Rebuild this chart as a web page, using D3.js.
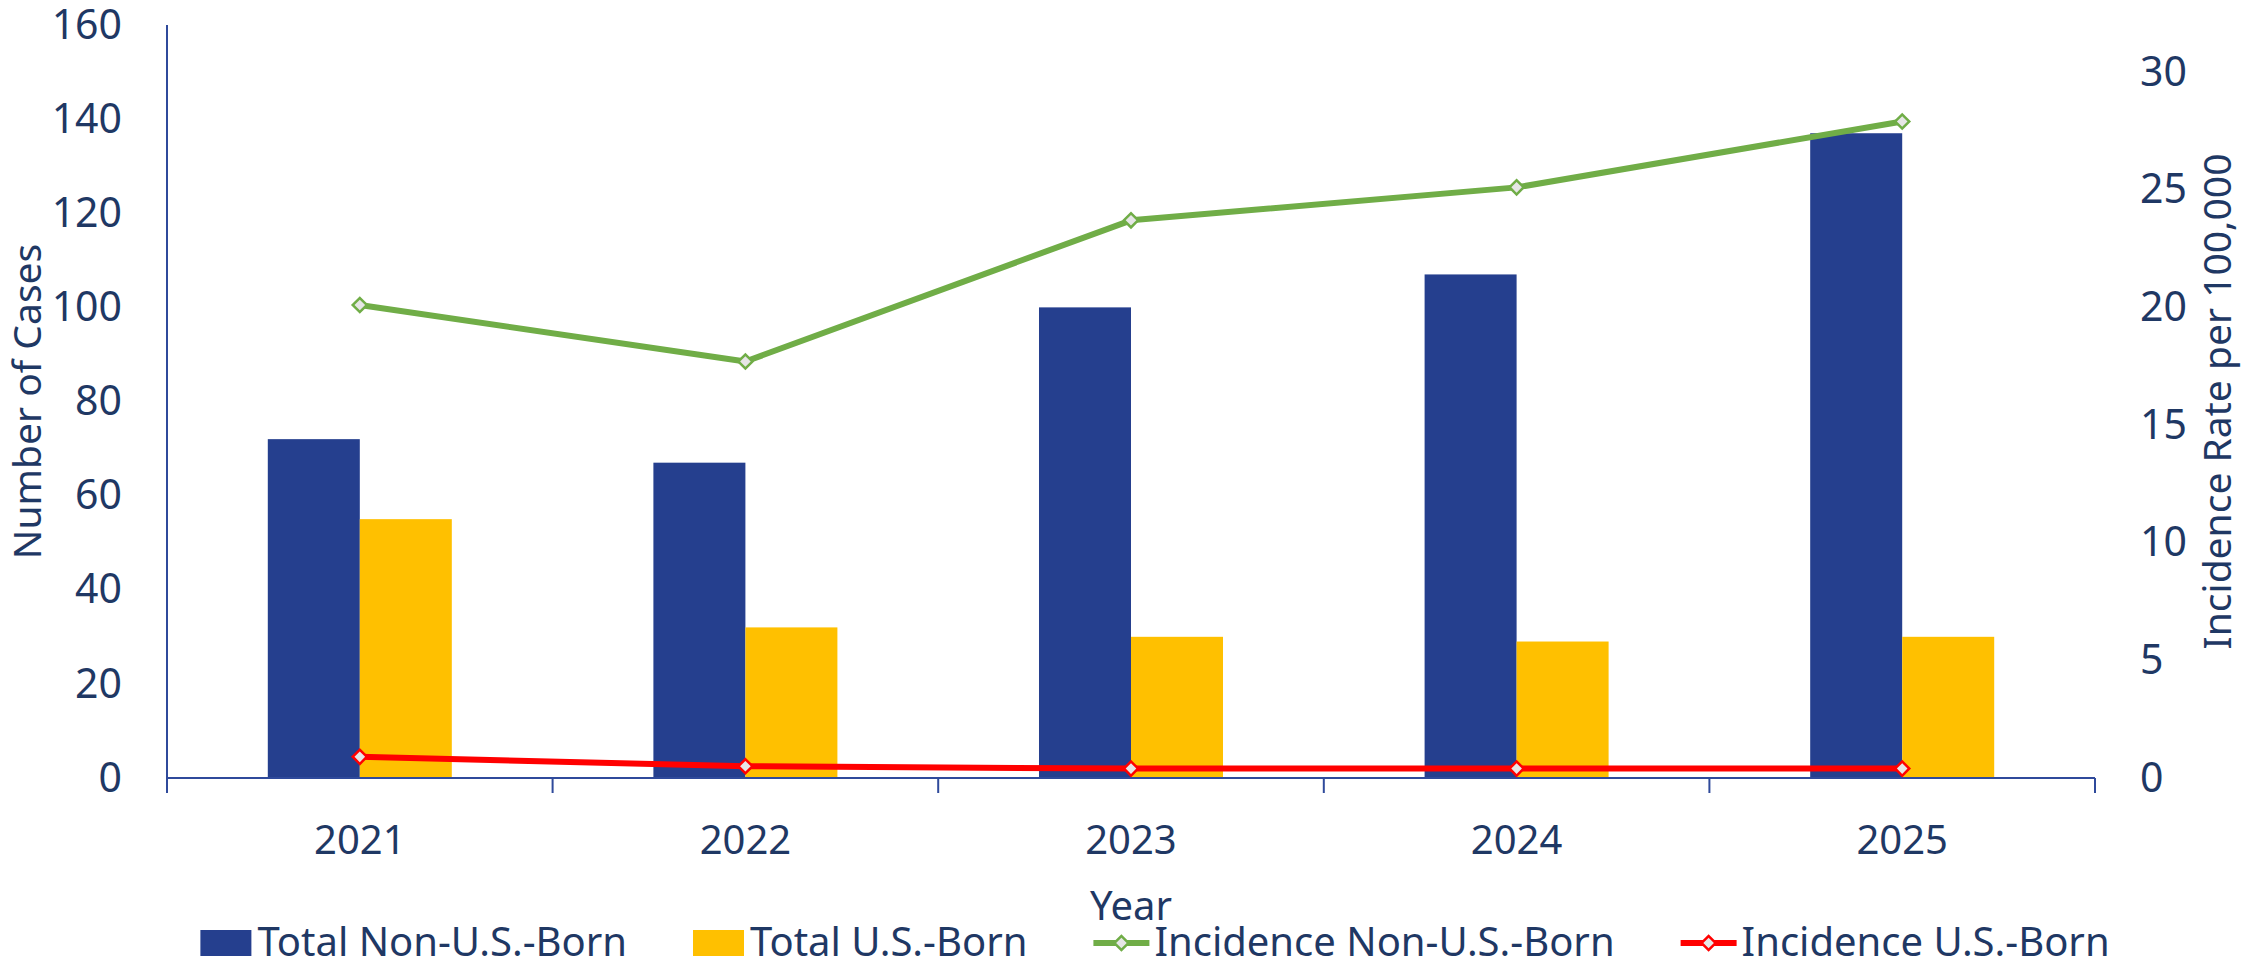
<!DOCTYPE html>
<html>
<head>
<meta charset="utf-8">
<script src="https://cdn.jsdelivr.net/npm/d3@7"></script>
<style>
  body { margin: 0; background: #fff; }
  text { font-family: "Segoe UI", "Noto Sans", sans-serif; fill: #1f3864; }
</style>
</head>
<body>
<script>
// chart values
var years = ["2021", "2022", "2023", "2024", "2025"];
var totalNonUS = [72, 67, 100, 107, 137];
var totalUS = [55, 32, 30, 29, 30];
var incNonUS = [20.1, 17.7, 23.7, 25.1, 27.9];
var incUS = [0.9, 0.5, 0.4, 0.4, 0.4];
var leftTicks = [0, 20, 40, 60, 80, 100, 120, 140, 160];
var rightTicks = [0, 5, 10, 15, 20, 25, 30];
var legendNames = ["Total Non-U.S.-Born", "Total U.S.-Born", "Incidence Non-U.S.-Born", "Incidence U.S.-Born"];

(function(){

var W = 2241, H = 965;
var plotL = 167, plotR = 2095, plotT = 25, plotB = 778;
var navy = "#253f8e", gold = "#ffc000", green = "#70ad47", red = "#ff0000";
var axisCol = "#2f4a9b";
var font = "'Segoe UI','Noto Sans',sans-serif";

var svg = d3.select("body").append("svg")
    .attr("width", W)
    .attr("height", H);

var x = d3.scaleBand().domain(years).range([plotL, plotR]).padding(0);
var yL = d3.scaleLinear().domain([0, 160]).range([plotB, plotT]);
var yR = d3.scaleLinear().domain([0, 32]).range([plotB, plotT]);
var barW = x.bandwidth() * 0.2386;
var cx = function(i){ return x(years[i]) + x.bandwidth() / 2; };

// bars
svg.append("g").selectAll("rect")
  .data(totalNonUS)
  .enter().append("rect")
    .attr("x", function(d, i){ return cx(i) - barW; })
    .attr("y", function(d){ return yL(d); })
    .attr("width", barW)
    .attr("height", function(d){ return yL(0) - yL(d); })
    .attr("fill", navy);

svg.append("g").selectAll("rect")
  .data(totalUS)
  .enter().append("rect")
    .attr("x", function(d, i){ return cx(i); })
    .attr("y", function(d){ return yL(d); })
    .attr("width", barW)
    .attr("height", function(d){ return yL(0) - yL(d); })
    .attr("fill", gold);

// axes
var gL = svg.append("g")
    .attr("transform", "translate(" + plotL + ",0)")
    .call(d3.axisLeft(yL).tickValues(leftTicks).tickSize(0).tickPadding(45));
gL.select(".domain").remove();
gL.selectAll("text").style("font-size", "41px").attr("fill", "#1f3864").style("font-family", font);

var gR = svg.append("g")
    .attr("transform", "translate(" + plotR + ",0)")
    .call(d3.axisRight(yR).tickValues(rightTicks).tickSize(0).tickPadding(45));
gR.select(".domain").remove();
gR.selectAll("text").style("font-size", "41px").attr("fill", "#1f3864").style("font-family", font);

var gX = svg.append("g")
    .attr("transform", "translate(0," + plotB + ")")
    .call(d3.axisBottom(x).tickSize(0).tickPadding(48));
gX.select(".domain").remove();
gX.selectAll("text").style("font-size", "40px").attr("fill", "#1f3864").style("font-family", font);

// axis lines and category dividers
svg.append("line")
    .attr("x1", plotL).attr("x2", plotL).attr("y1", plotT).attr("y2", plotB)
    .attr("stroke", axisCol).attr("stroke-width", 2);
svg.append("line")
    .attr("x1", plotL).attr("x2", plotR).attr("y1", plotB).attr("y2", plotB)
    .attr("stroke", axisCol).attr("stroke-width", 2);
var edges = years.map(function(d){ return x(d); }).concat([plotR]);
svg.append("g").selectAll("line")
  .data(edges)
  .enter().append("line")
    .attr("x1", function(d){ return d; }).attr("x2", function(d){ return d; })
    .attr("y1", plotB).attr("y2", plotB + 15)
    .attr("stroke", axisCol).attr("stroke-width", 2);

// lines
var marker = d3.symbol().type(d3.symbolSquare).size(100);
function drawLine(vals, col){
  var line = d3.line()
      .x(function(d, i){ return cx(i); })
      .y(function(d){ return yR(d); });
  svg.append("path")
      .datum(vals)
      .attr("d", line)
      .attr("fill", "none")
      .attr("stroke", col)
      .attr("stroke-width", 6)
      .attr("stroke-linejoin", "round");
  svg.append("g").selectAll("path")
    .data(vals)
    .enter().append("path")
      .attr("d", marker)
      .attr("transform", function(d, i){ return "translate(" + cx(i) + "," + yR(d) + ") rotate(45)"; })
      .attr("fill", "#e6e6e6")
      .attr("stroke", col)
      .attr("stroke-width", 2.5);
}
drawLine(incNonUS, green);
drawLine(incUS, red);

// axis titles
svg.append("text")
    .attr("transform", "translate(41," + (plotT + plotB) / 2 + ") rotate(-90)")
    .attr("text-anchor", "middle")
    .style("font-size", "39px")
    .text("Number of Cases");
svg.append("text")
    .attr("transform", "translate(2231," + (plotT + plotB) / 2 + ") rotate(-90)")
    .attr("text-anchor", "middle")
    .style("font-size", "39px")
    .text("Incidence Rate per 100,000");
svg.append("text")
    .attr("x", (plotL + plotR) / 2)
    .attr("y", 920)
    .attr("text-anchor", "middle")
    .style("font-size", "40px")
    .text("Year");

// legend
var legend = svg.append("g");
var lx = 0, legY = 943;
legendNames.forEach(function(name, i){
  var item = legend.append("g").attr("transform", "translate(" + lx + ",0)");
  if (i < 2) {
    item.append("rect")
        .attr("x", 0).attr("y", legY - 13)
        .attr("width", 51).attr("height", 26)
        .attr("fill", i == 0 ? navy : gold);
  } else {
    var col = i == 2 ? green : red;
    item.append("line")
        .attr("x1", 0).attr("x2", 56).attr("y1", legY).attr("y2", legY)
        .attr("stroke", col).attr("stroke-width", 6);
    item.append("path")
        .attr("d", marker)
        .attr("transform", "translate(28," + legY + ") rotate(45)")
        .attr("fill", "#e6e6e6")
        .attr("stroke", col)
        .attr("stroke-width", 2.5);
  }
  var t = item.append("text")
      .attr("x", i < 2 ? 57 : 61)
      .attr("y", legY + 13)
      .style("font-size", "40px")
      .text(name);
  lx += (i < 2 ? 57 : 61) + t.node().getComputedTextLength() + 66;
});
var legW = lx - 66;
legend.attr("transform", "translate(" + (1155 - legW / 2) + ",0)");

})();
</script>
</body>
</html>
